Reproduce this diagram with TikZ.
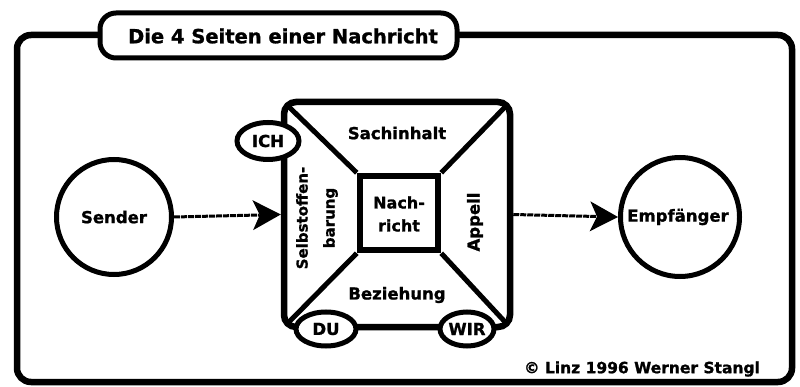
\documentclass[tikz,border=0pt]{standalone}
\usepackage{fontspec}
\setmainfont{DejaVu Sans}[BoldFeatures={FakeBold=1.2}]
\usetikzlibrary{arrows.meta,shapes.geometric}
\begin{document}
\begin{tikzpicture}[x=1pt,y=-1pt,
  txt/.style={font=\bfseries\fontsize{16.5}{22}\selectfont, inner sep=0pt, align=center},
  bigcircle/.style={draw, circle, line width=5pt, inner sep=0pt},
  oval/.style={draw, ellipse, line width=5pt, fill=white, inner sep=0pt,
    font=\bfseries\fontsize{16.5}{18}\selectfont},
  thickline/.style={line width=6.5pt},
  diag/.style={line width=5pt},
  arr/.style={line width=3pt, dash pattern=on 6pt off 1pt,
    -{Stealth[length=28pt,width=30pt,inset=7pt,line width=0pt]}}]
\useasboundingbox (0,0) rectangle (800,387);
% outer frame
\draw[thickline, rounded corners=14pt] (17,35) rectangle (792,382);
% title
\node[draw, line width=5pt, rounded corners=16pt, fill=white,
  minimum width=357pt, minimum height=45pt, inner sep=0pt] (title) at (278.5,35.5) {};
\node[font=\bfseries\fontsize{19.5}{22}\selectfont, inner sep=0pt] (titletext) at (283,36) {Die 4 Seiten einer Nachricht};
% sender / receiver
\node[bigcircle, minimum size=115pt] (sender) at (114,217) {};
\node[txt] (sendertext) at (sender.center) {Sender};
\node[bigcircle, minimum size=119pt] (empf) at (680,217) {};
\node[txt] (empftext) at (678,217) {Empfänger};
% main box
\node[draw, thickline, rounded corners=12pt, minimum width=226pt, minimum height=225pt,
  inner sep=0pt] (box) at (397,214.5) {};
\node[draw, thickline, minimum width=78pt, minimum height=74pt, inner sep=0pt] (inner) at (399,213) {};
\coordinate (tl) at (288,106);
\coordinate (tr) at (506,106);
\coordinate (bl) at (288,323);
\coordinate (br) at (506,323);
\draw[diag] (tl) -- (inner.north west);
\draw[diag] (tr) -- (inner.north east);
\draw[diag] (bl) -- (inner.south west);
\draw[diag] (br) -- (inner.south east);
% labels
\node[txt] (sach) at (397,133) {Sachinhalt};
\node[txt] (bez) at (397,295) {Beziehung};
\node[txt, rotate=90, font=\bfseries\fontsize{15}{27}\selectfont] (selbst) at (317,218) {Selbstoffen-\\barung};
\node[txt, rotate=90] (appell) at (475,222) {Appell};
\node[txt, font=\bfseries\fontsize{16}{23}\selectfont] (nach) at (399,214) {Nach-\\richt};
% ovals
\node[oval, minimum width=62pt, minimum height=37pt] (ich) at (268,141) {ICH};
\node[oval, minimum width=60pt, minimum height=34pt] (du) at (326,329) {DU};
\node[oval, minimum width=54pt, minimum height=34pt] (wir) at (467,329) {WIR};
% arrows
\draw[arr] (sender.east) -- (box.west);
\draw[arr] (box.east) -- (empf.west);
% copyright
\node[font=\bfseries\fontsize{15.5}{18}\selectfont, inner sep=0pt] (copy) at (642,369) {© Linz 1996 Werner Stangl};
\end{tikzpicture}
\end{document}
